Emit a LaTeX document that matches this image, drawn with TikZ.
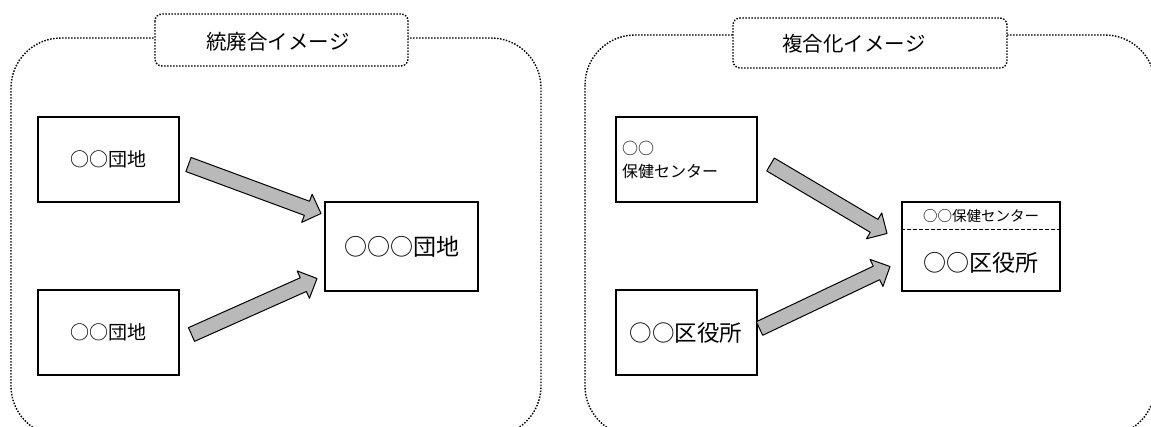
\documentclass[tikz,border=0pt]{standalone}
\usepackage{fontspec}
\usepackage{tikz}
\usetikzlibrary{calc,positioning}
\newfontfamily\jpfont{Noto Sans CJK JP}

% thick hatched arrow between two named points
\newcommand{\fatarrow}[2]{%
  \coordinate (neck) at ($(#2)!15pt!(#1)$);
  \filldraw[fatarrow] ($(#1)!7.5pt!90:(#2)$) -- ($(neck)!7.5pt!90:(#2)$) -- ($(neck)!15pt!90:(#2)$) -- (#2)
    -- ($(neck)!15pt!-90:(#2)$) -- ($(neck)!7.5pt!-90:(#2)$) -- ($(#1)!7.5pt!-90:(#2)$) -- cycle;}

\begin{document}
\begin{tikzpicture}[x=1pt, y=-1pt,
    panel/.style={draw, dash pattern=on 1.5pt off 1.5pt, line width=1.4pt, rounded corners=50pt},
    titlebox/.style={draw, fill=white, dash pattern=on 1.5pt off 1.5pt, line width=1.4pt, rounded corners=7pt},
    titletext/.style={inner sep=0pt, font=\jpfont\fontsize{20.5}{24}\selectfont},
    unit/.style={draw, line width=2pt, inner sep=0pt, minimum width=141pt, minimum height=85pt,
        font=\jpfont\fontsize{19}{22}\selectfont},
    fatarrow/.style={fill=gray!55, draw=black, line width=1pt, line join=round}]
        \useasboundingbox (0,0) rectangle (1151,426);

        % left: integration
        \draw[panel] (11,38) rectangle (541,436);
        \draw[titlebox] (155,14) rectangle (408,66);
        \node[titletext] (titleA) at (278,42) {統廃合イメージ};

        \node[unit] (danchiA) at (108,159.5) {○○団地};
        \node[unit] (danchiB) at (108,332.5) {○○団地};
        \node[unit, minimum width=153pt, minimum height=89pt, font=\jpfont\fontsize{23}{26}\selectfont]
            (danchiC) at (401.5,246.5) {○○○団地};

        \coordinate (a1s) at ($(danchiA.east)+(9,5)$);
        \coordinate (a1e) at ($(danchiC.west)+(-3,-33)$);
        \coordinate (a2s) at ($(danchiB.east)+(12,2)$);
        \coordinate (a2e) at ($(danchiC.west)+(-7,32)$);
        \fatarrow{a1s}{a1e}
        \fatarrow{a2s}{a2e}

        % right: combination
        \draw[panel] (585,35) rectangle (1155,436);
        \draw[titlebox] (733,18) rectangle (1007,68);
        \node[titletext] (titleB) at (854,44) {複合化イメージ};

        \node[unit, text width=128pt, align=left, font=\jpfont\fontsize{16}{23}\selectfont]
            (hokenA) at (686,159.5) {○○\\保健センター};
        \node[unit, font=\jpfont\fontsize{22.5}{24}\selectfont] (kuyakuA) at (686,332.5) {○○区役所};
        \node[unit, minimum width=158pt, minimum height=89pt] (fukugo) at (981,246.5) {};
        \node[inner sep=0pt, font=\jpfont\fontsize{14.5}{16}\selectfont] (hokenB) at (981,216) {○○保健センター};
        \node[inner sep=0pt, font=\jpfont\fontsize{23}{24}\selectfont] (kuyakuB) at (981,263) {○○区役所};
        \draw[line width=1pt, dash pattern=on 4pt off 2pt]
            ($(fukugo.north west)+(0,28)$) -- ($(fukugo.north east)+(0,28)$);

        \coordinate (b1s) at ($(hokenA.east)+(13,5)$);
        \coordinate (b1e) at ($(fukugo.west)+(-14,-13)$);
        \coordinate (b2s) at ($(kuyakuA.east)+(2,-4)$);
        \coordinate (b2e) at ($(fukugo.west)+(-11,20)$);
        \fatarrow{b1s}{b1e}
        \fatarrow{b2s}{b2e}
    \end{tikzpicture}
\end{document}
